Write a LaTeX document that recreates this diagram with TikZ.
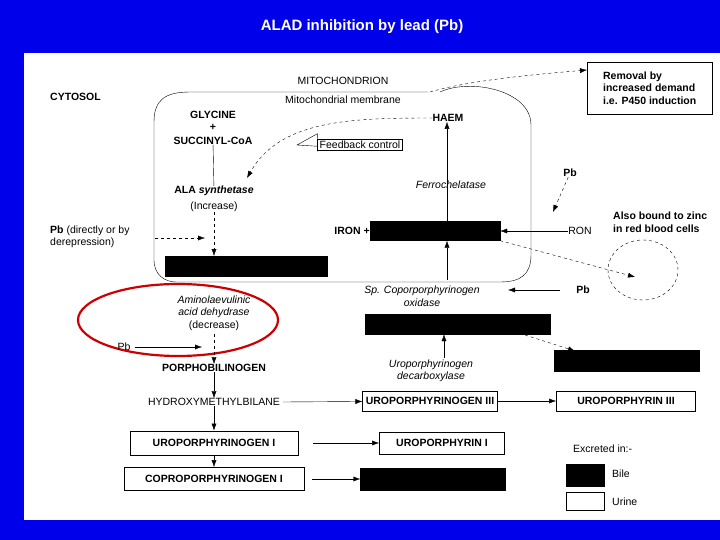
\documentclass[tikz,border=0pt]{standalone}
\usepackage{fontspec}
\setmainfont{Liberation Sans}
\usetikzlibrary{arrows.meta,shapes.geometric}
\definecolor{bg}{RGB}{0,0,235}
\begin{document}
\begin{tikzpicture}[x=1pt,y=-1pt,
  t/.style={font=\fontsize{10.5}{12.5}\selectfont,inner sep=0pt,align=center},
  tb/.style={t,font=\fontsize{10.5}{12.5}\selectfont\bfseries},
  ti/.style={t,font=\fontsize{10.5}{12.5}\selectfont\itshape},
  bx/.style={draw,thick,minimum height=20pt,inner sep=3pt,font=\fontsize{10.5}{12.5}\selectfont\bfseries},
  blk/.style={fill=black,draw=black},
  ar/.style={-{Latex[length=7pt,width=5pt]},thin},
  da/.style={ar,dashed}]
\useasboundingbox (0,0) rectangle (720,540);
\fill[bg] (0,0) rectangle (720,540);
\fill[white] (24,53) rectangle (720,520);
\node[font=\fontsize{15}{17}\selectfont\bfseries,text=white] (title) at (362,27) {ALAD inhibition by lead (Pb)};
% mitochondrion
\draw[thin] (154,260) -- (154,122) .. controls (154,100) and (165,92) .. (190,92) -- (428,92);
\draw[thin] (440,92) .. controls (470,78) and (531,90) .. (531,125) -- (531,255) .. controls (531,275) and (520,282) .. (500,282) -- (176,282) .. controls (165,282) and (154,275) .. (154,260);
\node[tb,anchor=west] (cyt) at (50,97) {CYTOSOL};
\node[t] (mito) at (343,81) {MITOCHONDRION};
\node[t] (mem) at (343,100) {Mitochondrial membrane};
\node[tb] (gly) at (213,115) {GLYCINE};
\node[tb] (plus) at (213,127) {+};
\node[tb] (suc) at (213,141) {SUCCINYL-CoA};
\node[tb] (alas) at (214,191) {ALA \textit{synthetase}};
\node[t] (inc) at (214,207) {(Increase)};
\draw (suc) -- (alas);
\node[blk,minimum width=162pt,minimum height=20pt] (ala) at (246,266) {};
\coordinate (alatop) at (214,256);
\draw[da] (inc) -- (alatop);
\node[t,align=left,anchor=west] (pb1) at (50,237) {\textbf{Pb} (directly or by\\derepression)};
\coordinate (pb1e) at (205,238);
\draw[da] (155,238) -- (pb1e);
% feedback
\node[draw,thick,t,inner sep=2pt] (fb) at (360,145) {Feedback control};
\draw (fb.north west) -- ++(0,-5) -- (297,145) -- ([yshift=5]fb.south west) -- (fb.south west);
\node[tb] (haem) at (448,118) {HAEM};
\draw[da] (haem.west) .. controls (350,118) and (280,120) .. (247,178);
\node[ti] (ferro) at (451,185) {Ferrochelatase};
\node[tb] (iron) at (352,231) {IRON +};
\node[blk,minimum width=130pt,minimum height=19pt] (heme) at (435,231) {};
\coordinate (hemeu) at (447,221);
\draw[ar] (hemeu) -- (haem.south-|hemeu);
\node[t] (ron) at (580,231) {RON};
\draw[ar] (ron) -- (heme);
\node[tb] (pb2) at (570,173) {Pb};
\coordinate (pb2e) at (553,212);
\draw[da] (pb2) -- (pb2e);
\node[draw,dashed,thin,ellipse,minimum width=70pt,minimum height=60pt] (cell) at (643,270) {};
\draw[da] (heme.south east) -- (635,277);
\node[tb,align=left,anchor=west] (zinc) at (613,222) {Also bound to zinc\\in red blood cells};
\node[ti] (copox) at (422,296) {Sp. Coporporphyrinogen\\oxidase};
\coordinate (hemed) at (447,280);
\draw[ar] (hemed) -- (hemed|-heme.south);
\node[tb] (pb3) at (583,290) {Pb};
\draw[ar] (560,290) -- (508,290);
\node[draw,thin,tb,align=left,anchor=north west,minimum width=125pt,minimum height=52pt,inner sep=3pt] (rem) at (587,62) {Removal by\\increased demand\\i.e. P450 induction};
\draw[da] (430,92) .. controls (470,80) and (540,74) .. (rem.west|-0,70);
% lower
\node[blk,minimum width=185pt,minimum height=20pt] (copro3) at (458,324) {};
\node[blk,minimum width=145pt,minimum height=21pt] (cop3) at (627,361) {};
\draw[da] (525,335) -- (575,351);
\node[ti] (urod) at (431,371) {Uroporphyrinogen\\decarboxylase};
\coordinate (c3b) at (444,358);
\draw[ar] (c3b) -- (c3b|-copro3.south);
\node[ti] (alad) at (214,313) {Aminolaevulinic\\acid dehydrase\\\upshape(decrease)};
\draw[red!80!black,line width=2.2pt] (178,320) ellipse (100 and 36);
\node[tb] (pbg) at (214,368) {PORPHOBILINOGEN};
\coordinate (aladb) at (214,334);
\draw[da] (aladb) -- (pbg);
\node[t] (pb4) at (124,347) {Pb};
\coordinate (pb4e) at (202,347);
\draw[ar] ([xshift=4pt]pb4.east) -- (pb4e);
\node[t] (hmb) at (214,402) {HYDROXYMETHYLBILANE};
\draw[ar] (pbg) -- (hmb);
\node[bx] (uro3) at (430,401) {UROPORPHYRINOGEN III};
\node[bx,minimum width=139pt] (urp3) at (626,401) {UROPORPHYRIN III};
\draw[ar] ([xshift=3pt]hmb.east) -- (uro3);
\draw[ar] (uro3) -- (urp3);
\node[bx,minimum width=168pt,minimum height=24pt] (uro1) at (214,443) {UROPORPHYRINOGEN I};
\node[bx,minimum width=125pt,minimum height=22pt] (urp1) at (442,443) {UROPORPHYRIN I};
\draw[ar] (hmb) -- (uro1);
\draw[ar] ([xshift=15pt]uro1.east) -- (urp1);
\node[bx,minimum width=180pt,minimum height=23pt] (cpg1) at (214,479) {COPROPORPHYRINOGEN I};
\node[blk,minimum width=145pt,minimum height=22pt] (cp1) at (433,479) {};
\draw[ar] (uro1) -- (cpg1);
\draw[ar] ([xshift=8pt]cpg1.east) -- (cp1);
\node[t,anchor=west] (exc) at (573,449) {Excreted in:-};
\node[blk,minimum width=38pt,minimum height=22pt] (bile) at (585,475) {};
\node[t,anchor=west] (bilet) at (612,474) {Bile};
\node[draw,thick,minimum width=38pt,minimum height=18pt] (urine) at (585,501) {};
\node[t,anchor=west] (urinet) at (612,502) {Urine};
\end{tikzpicture}
\end{document}
